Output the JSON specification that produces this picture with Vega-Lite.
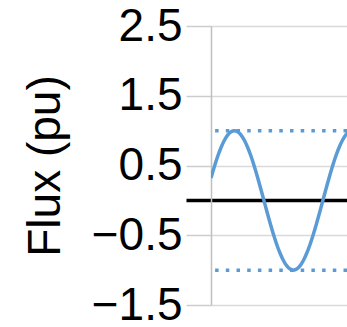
{
  "$schema": "https://vega.github.io/schema/vega-lite/v6.json",
  "autosize": "none",
  "width": 136,
  "height": 279,
  "padding": {"left": 211, "top": 26, "right": 0, "bottom": 22},
  "background": "white",
  "config": {"view": {"stroke": null}},
  "layer": [
    {
      "data": {"values": [{"level": 1}, {"level": -1}]},
      "mark": {"type": "rule", "color": "#5b9bd5", "strokeWidth": 3.5, "strokeDash": [3.5, 7.2]},
      "encoding": {
        "y": {
          "field": "level",
          "type": "quantitative",
          "scale": {"domain": [-1.5, 2.5], "nice": false, "zero": false},
          "axis": {
            "values": [-1.5, -0.5, 0, 0.5, 1.5, 2.5],
            "format": ".1f",
            "labelExpr": "datum.value === 0 ? '' : datum.label",
            "labelFont": "Liberation Sans",
            "labelFontSize": 46,
            "labelColor": "black",
            "labelPadding": 4,
            "tickSize": 25,
            "tickColor": {"condition": {"test": "datum.value === 0", "value": "black"}, "value": "#cccccc"},
            "tickWidth": {"condition": {"test": "datum.value === 0", "value": 3.5}, "value": 1.5},
            "grid": true,
            "gridColor": {"condition": {"test": "datum.value === 0", "value": "black"}, "value": "#d9d9d9"},
            "gridWidth": {"condition": {"test": "datum.value === 0", "value": 3.5}, "value": 1.5},
            "domainColor": "#c0c0c0",
            "domainWidth": 1.5,
            "title": "Flux (pu)",
            "titleFont": "Liberation Sans",
            "titleFontSize": 46,
            "titleFontWeight": "normal",
            "titleColor": "black",
            "titlePadding": 22
          }
        }
      }
    },
    {
      "data": {"values": [
        {"deg": 18.7, "flux": 0.321},
        {"deg": 30, "flux": 0.5},
        {"deg": 40, "flux": 0.643},
        {"deg": 50, "flux": 0.766},
        {"deg": 60, "flux": 0.866},
        {"deg": 70, "flux": 0.94},
        {"deg": 80, "flux": 0.985},
        {"deg": 90, "flux": 1.0},
        {"deg": 100, "flux": 0.985},
        {"deg": 110, "flux": 0.94},
        {"deg": 120, "flux": 0.866},
        {"deg": 130, "flux": 0.766},
        {"deg": 140, "flux": 0.643},
        {"deg": 150, "flux": 0.5},
        {"deg": 160, "flux": 0.342},
        {"deg": 170, "flux": 0.174},
        {"deg": 180, "flux": 0.0},
        {"deg": 190, "flux": -0.174},
        {"deg": 200, "flux": -0.342},
        {"deg": 210, "flux": -0.5},
        {"deg": 220, "flux": -0.643},
        {"deg": 230, "flux": -0.766},
        {"deg": 240, "flux": -0.866},
        {"deg": 250, "flux": -0.94},
        {"deg": 260, "flux": -0.985},
        {"deg": 270, "flux": -1.0},
        {"deg": 280, "flux": -0.985},
        {"deg": 290, "flux": -0.94},
        {"deg": 300, "flux": -0.866},
        {"deg": 310, "flux": -0.766},
        {"deg": 320, "flux": -0.643},
        {"deg": 330, "flux": -0.5},
        {"deg": 340, "flux": -0.342},
        {"deg": 350, "flux": -0.174},
        {"deg": 360, "flux": 0.0},
        {"deg": 370, "flux": 0.174},
        {"deg": 380, "flux": 0.342},
        {"deg": 390, "flux": 0.5},
        {"deg": 400, "flux": 0.643},
        {"deg": 410, "flux": 0.766},
        {"deg": 420, "flux": 0.866},
        {"deg": 430, "flux": 0.94},
        {"deg": 440, "flux": 0.985}
      ]},
      "mark": {"type": "line", "color": "#5b9bd5", "strokeWidth": 3.5, "clip": true, "interpolate": "monotone"},
      "encoding": {
        "x": {"field": "deg", "type": "quantitative", "scale": {"domain": [18.7, 433.5], "nice": false, "zero": false}, "axis": null},
        "y": {"field": "flux", "type": "quantitative"}
      }
    }
  ]
}
